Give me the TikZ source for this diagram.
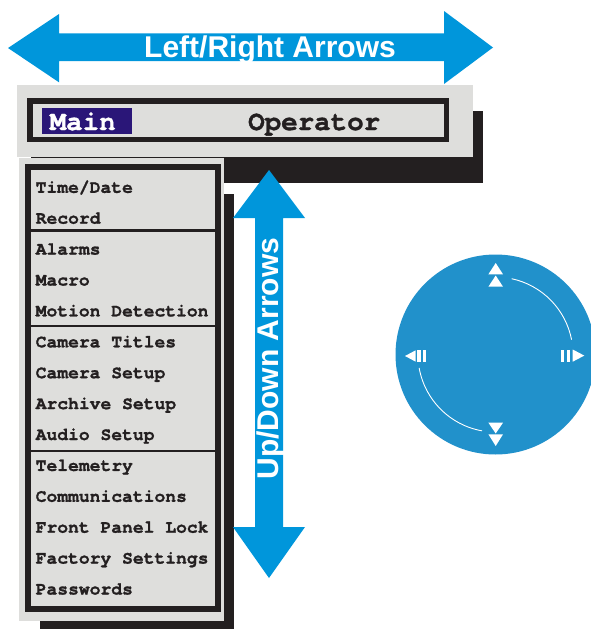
\documentclass[tikz,border=0pt]{standalone}
\usepackage{fontspec}
\newfontfamily\monofont{texgyrecursor}[Extension=.otf, UprightFont=*-regular, BoldFont=*-bold, BoldFeatures={FakeBold=1.2}]
\newfontfamily\sansfont{Liberation Sans}
\definecolor{arrowblue}{RGB}{0,150,219}
\definecolor{dialblue}{RGB}{33,145,203}
\definecolor{panelgray}{RGB}{222,222,220}
\definecolor{shadowblack}{RGB}{35,31,32}
\definecolor{mainnavy}{RGB}{42,22,120}
\begin{document}
\begin{tikzpicture}[x=1pt,y=-1pt,
  item/.style={anchor=base west, inner sep=0pt, text=shadowblack,
    font=\monofont\bfseries\fontsize{18}{18}\selectfont},
  toptext/.style={anchor=base west, inner sep=0pt,
    font=\monofont\bfseries\fontsize{27.5}{27.5}\selectfont},
  arrowtext/.style={anchor=base, inner sep=0pt, text=white,
    font=\sansfont\bfseries\fontsize{30}{30}\selectfont},
  frameline/.style={draw=shadowblack, line width=5.5pt},
  sepline/.style={draw=shadowblack, line width=2.5pt},
  symbol/.style={fill=white}]
\useasboundingbox (0,0) rectangle (590,629);

% ---------- top bar ----------
\fill[shadowblack] (31,111) rectangle (482.7,183);
\fill[panelgray] (17,85) rectangle (472.7,156.7);
\fill[mainnavy] (42,108) rectangle (132,134);
\draw[frameline] (29.75,101.1) rectangle (446.6,139.6);
\node[toptext, text=white] (main) at (49.5,130) {Main};
\node[toptext, text=shadowblack] (operator) at (248,130) {Operator};

% ---------- menu ----------
\fill[shadowblack] (40,194) rectangle (234,640);
\fill[panelgray] (19,158.3) rectangle (224.3,620.7);
\draw[draw=shadowblack, line width=6pt] (27.5,167.3) rectangle (217.7,609.3);
\draw[sepline] (30.5,230.5) -- (214.7,230.5);
\draw[sepline] (30.5,326) -- (214.7,326);
\draw[sepline] (30.5,451) -- (214.7,451);
\foreach \t [count=\i from 0] in {Time/Date,Record,Alarms,Macro,Motion Detection,
  Camera Titles,Camera Setup,Archive Setup,Audio Setup,Telemetry,Communications,
  Front Panel Lock,Factory Settings,Passwords}
  \node[item] (item\i) at (35.5,{192.8+30.9*\i}) {\t};

% ---------- up/down arrow ----------
\fill[arrowblue] (269,170) -- (305,218) -- (283,218) -- (283,527) -- (305,527)
  -- (269,578) -- (233,527) -- (255,527) -- (255,218) -- (233,218) -- cycle;
\node[arrowtext, rotate=90] (udtext) at (278.5,358.5) {Up/Down Arrows};

% ---------- left/right arrow ----------
\fill[arrowblue] (8,48) -- (59,14) -- (59,33.3) -- (444,33.3) -- (444,11)
  -- (493,47.5) -- (444,84) -- (444,61) -- (59,61) -- (59,82.3) -- cycle;
\node[arrowtext] (lrtext) at (270,57.5) {Left/Right Arrows};

% ---------- dial ----------
\coordinate (dialc) at (495.5,354.5);
\fill[dialblue] (dialc) circle[radius=100];
% up symbol
\fill[symbol] (495.7,263) -- (503,274.3) -- (488.4,274.3) -- cycle;
\fill[symbol] (495.7,275.5) -- (503,286.7) -- (488.4,286.7) -- cycle;
% down symbol
\fill[symbol] (488.4,422.7) -- (503,422.7) -- (495.7,433.5) -- cycle;
\fill[symbol] (488.4,434.3) -- (503,434.3) -- (495.7,446) -- cycle;
% left symbol
\fill[symbol] (405,356) -- (415.7,350.3) -- (415.7,361.7) -- cycle;
\fill[symbol] (417.3,350.3) rectangle (420.7,361.7);
\fill[symbol] (422.7,350.3) rectangle (426.3,361.7);
% right symbol
\fill[symbol] (561,349.5) rectangle (564.3,361.7);
\fill[symbol] (566.7,349.5) rectangle (570,361.7);
\fill[symbol] (572.7,349.5) -- (584.3,355.6) -- (572.7,361.7) -- cycle;
% arcs
\draw[white, line width=0.9pt] (dialc) ++(-78:77.5) arc[start angle=-78, end angle=-11, radius=77.5];
\draw[white, line width=0.9pt] (dialc) ++(170:77.5) arc[start angle=170, end angle=100, radius=77.5];
\end{tikzpicture}
\end{document}
